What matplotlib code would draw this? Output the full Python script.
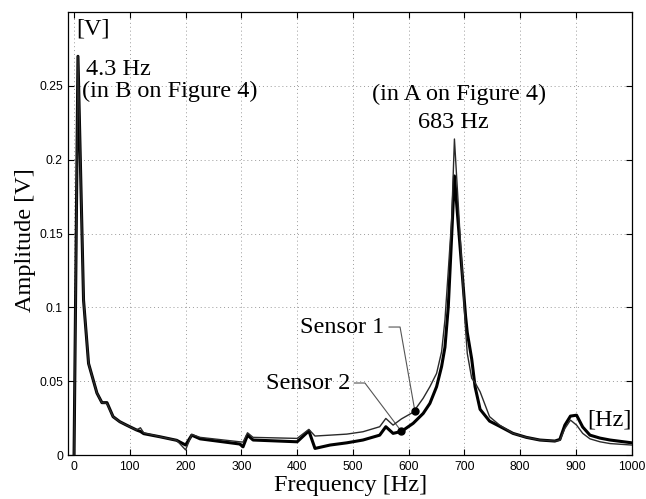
import matplotlib
matplotlib.use("Agg")
import matplotlib.pyplot as plt

# ---- data ----
freq = [0, 7, 17, 26, 35, 41, 50, 59, 70, 82, 94, 112, 119, 125, 154, 184, 200,
        211, 226, 297, 303, 311, 321, 400, 421, 432, 459, 489, 518, 548, 559,
        572, 587, 608, 626, 638, 650, 659, 665, 671, 677, 682, 702, 705, 713,
        719, 728, 745, 763, 787, 811, 835, 862, 871, 880, 890, 901, 912, 925,
        943, 961, 1000]

sensor1 = [0.0, 0.270, 0.105, 0.062, 0.050, 0.042, 0.0355, 0.0350, 0.026, 0.0226,
           0.0203, 0.0170, 0.0185, 0.0150, 0.0124, 0.0100, 0.0035,
           0.0140, 0.0120, 0.0090, 0.0088, 0.0151, 0.0120, 0.0113, 0.0174, 0.0129,
           0.0135, 0.0142, 0.0158, 0.0192, 0.0248,
           0.0203, 0.0245, 0.0290, 0.0385, 0.0463, 0.0553, 0.0700, 0.0915, 0.125,
           0.159, 0.2140, 0.085, 0.0689, 0.052,
           0.0490, 0.0429, 0.0260, 0.0203, 0.0147, 0.0120, 0.0102, 0.0095, 0.0100,
           0.0180, 0.0237, 0.0203, 0.0147, 0.0110,
           0.0090, 0.0078, 0.0068]

sensor2 = [0.0, 0.270, 0.105, 0.062, 0.050, 0.042, 0.0355, 0.0355, 0.026, 0.0226,
           0.0203, 0.0170, 0.0160, 0.0145, 0.0124, 0.0100, 0.0068,
           0.0135, 0.0110, 0.0075, 0.0056, 0.0135, 0.0102, 0.0090, 0.0164, 0.0045,
           0.0068, 0.0083, 0.0102, 0.0135, 0.0192,
           0.0147, 0.0160, 0.0215, 0.0282, 0.0350, 0.0463, 0.0600, 0.0730, 0.1005,
           0.148, 0.1890, 0.094, 0.083, 0.065,
           0.0463, 0.0310, 0.0230, 0.0195, 0.0147, 0.0120, 0.0102, 0.0095, 0.0106,
           0.0203, 0.0264, 0.0270, 0.0190, 0.0135,
           0.0115, 0.0102, 0.0083]

marker_freq = [611, 587]
marker_amp = [0.0300, 0.0160]

xticks = [0, 100, 200, 300, 400, 500, 600, 700, 800, 900, 1000]
yticks = [0, 0.05, 0.1, 0.15, 0.2, 0.25]
ytick_labels = ["0", "0.05", "0.1", "0.15", "0.2", "0.25"]

serif = "Liberation Serif"
sans = "Liberation Sans"
TS = 17.5

fig = plt.figure(figsize=(6.46, 4.99), dpi=100)
ax = fig.add_axes([0.106, 0.088, 0.872, 0.888])

ax.plot(freq, sensor2, color="black", lw=2.2, zorder=3)
ax.plot(freq, sensor1, color="#2a2a2a", lw=1.0, zorder=4)

ax.set_xlim(-10, 1000)
ax.set_ylim(0, 0.3)
ax.set_xticks(xticks)
ax.set_xticklabels([str(t) for t in xticks], fontfamily=sans, fontsize=8.7)
ax.set_yticks(yticks)
ax.set_yticklabels(ytick_labels, fontfamily=sans, fontsize=8.7)
ax.tick_params(direction="in", length=4, width=0.8, top=True, right=True, pad=4)
ax.grid(True, color="#9a9a9a", linestyle=(0, (1, 3)), linewidth=0.7)
for s in ax.spines.values():
    s.set_linewidth(0.9)

# axis labels
fig.text(0.5 * (0.106 + 0.978), 0.017, "Frequency [Hz]", family=serif,
         fontsize=TS, ha="center", va="baseline")
fig.text(0.048, 0.519, "Amplitude [V]", family=serif, fontsize=TS,
         rotation=90, rotation_mode="anchor", ha="center", va="baseline")

# annotations
ax.text(3.6, 0.2849, "[V]", family=serif, fontsize=TS, va="baseline", ha="left")
ax.text(21.5, 0.2575, "4.3 Hz", family=serif, fontsize=TS, va="baseline", ha="left")
ax.text(13.8, 0.2427, "(in B on Figure 4)", family=serif, fontsize=TS,
        va="baseline", ha="left")
ax.text(690, 0.2405, "(in A on Figure 4)", family=serif, fontsize=TS,
        va="baseline", ha="center")
ax.text(681, 0.2213, "683 Hz", family=serif, fontsize=TS, va="baseline", ha="center")
ax.text(921, 0.0203, "[Hz]", family=serif, fontsize=TS, va="baseline", ha="left")

ax.plot(marker_freq, marker_amp, "o", color="black", ms=5, zorder=5, ls="none")

ax.annotate("Sensor 1", xy=(marker_freq[0], marker_amp[0]), xytext=(557, 0.0867),
            family=serif, fontsize=TS, ha="right", va="center",
            arrowprops=dict(arrowstyle="-", color="#555555", lw=0.8,
                            shrinkA=1, shrinkB=0, relpos=(1, 0.5),
                            connectionstyle="angle,angleA=0,angleB=100,rad=0"))
ax.annotate("Sensor 2", xy=(marker_freq[1], marker_amp[1]), xytext=(494.6, 0.0488),
            family=serif, fontsize=TS, ha="right", va="center",
            arrowprops=dict(arrowstyle="-", color="#555555", lw=0.8,
                            shrinkA=1, shrinkB=0, relpos=(1, 0.5),
                            connectionstyle="angle,angleA=0,angleB=127,rad=0"))

fig.savefig("out.png", dpi=100)
